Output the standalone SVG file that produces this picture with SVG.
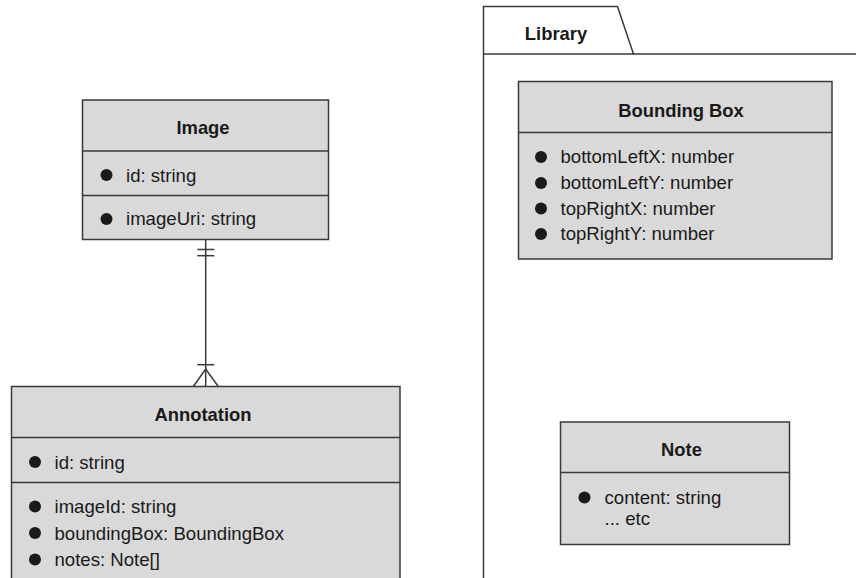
<svg xmlns="http://www.w3.org/2000/svg" width="856" height="578" viewBox="0 0 856 578">
<style>
.box{fill:#d9d9d9;stroke:#3a3a3a;stroke-width:1.5}
.div{stroke:#3a3a3a;stroke-width:1.5;fill:none}
.ln{stroke:#3a3a3a;stroke-width:1.5;fill:none}
.t{font-family:"Liberation Sans",Arial,sans-serif;font-size:18.6px;fill:#1a1a1a}
.h{font-family:"Liberation Sans",Arial,sans-serif;font-size:18.4px;font-weight:bold;fill:#1a1a1a;text-anchor:middle}
.b{fill:#1a1a1a}
</style>
<rect width="856" height="578" fill="#ffffff"/>
<g id="library">
<path class="ln" d="M483.5 578 V6.5 H617.5 L633.5 54 H856"/>
<path class="ln" d="M483.5 54 H633.5"/>
<text class="h" x="556" y="39.5">Library</text>
</g>
<g id="image">
<rect class="box" x="82.5" y="100" width="246" height="139.5"/>
<line class="div" x1="82.5" y1="151" x2="328.5" y2="151"/>
<line class="div" x1="82.5" y1="195.5" x2="328.5" y2="195.5"/>
<text class="h" x="203" y="134">Image</text>
<circle class="b" cx="106.5" cy="175" r="6"/>
<text class="t" x="126" y="181.5">id: string</text>
<circle class="b" cx="106.5" cy="219" r="6"/>
<text class="t" x="126" y="225">imageUri: string</text>
</g>
<g id="annotation">
<rect class="box" x="11.5" y="386.5" width="388.5" height="200"/>
<line class="div" x1="11.5" y1="437.5" x2="400" y2="437.5"/>
<line class="div" x1="11.5" y1="482.5" x2="400" y2="482.5"/>
<text class="h" x="203" y="421">Annotation</text>
<circle class="b" cx="35" cy="462" r="6"/>
<text class="t" x="54.5" y="468.5">id: string</text>
<circle class="b" cx="35" cy="506.5" r="6"/>
<text class="t" x="54.5" y="513">imageId: string</text>
<circle class="b" cx="35" cy="533" r="6"/>
<text class="t" x="54.5" y="539.5">boundingBox: BoundingBox</text>
<circle class="b" cx="35" cy="559.5" r="6"/>
<text class="t" x="54.5" y="566">notes: Note[]</text>
</g>
<g id="boundingbox">
<rect class="box" x="518.5" y="81.5" width="313.5" height="177.5"/>
<line class="div" x1="518.5" y1="132.5" x2="832" y2="132.5"/>
<text class="h" x="681" y="116.5">Bounding Box</text>
<circle class="b" cx="541" cy="157" r="6"/>
<text class="t" x="560.5" y="163">bottomLeftX: number</text>
<circle class="b" cx="541" cy="183" r="6"/>
<text class="t" x="560.5" y="189">bottomLeftY: number</text>
<circle class="b" cx="541" cy="208.5" r="6"/>
<text class="t" x="560.5" y="214.5">topRightX: number</text>
<circle class="b" cx="541" cy="234" r="6"/>
<text class="t" x="560.5" y="240">topRightY: number</text>
</g>
<g id="note">
<rect class="box" x="560.5" y="422" width="229" height="122.5"/>
<line class="div" x1="560.5" y1="472.5" x2="789.5" y2="472.5"/>
<text class="h" x="681.5" y="456">Note</text>
<circle class="b" cx="584.5" cy="497.5" r="6"/>
<text class="t" x="604.5" y="504">content: string</text>
<text class="t" x="604.5" y="524.5">... etc</text>
</g>
<g id="connectors">
<line class="ln" x1="205.7" y1="239.5" x2="205.7" y2="386.5"/>
<line class="ln" x1="197.3" y1="249.5" x2="214.3" y2="249.5"/>
<line class="ln" x1="197.3" y1="255.7" x2="214.3" y2="255.7"/>
<line class="ln" x1="197.3" y1="364.7" x2="214.3" y2="364.7"/>
<path class="ln" d="M193.3 386.5 L205.7 369 L218.3 386.5"/>
</g>
</svg>
